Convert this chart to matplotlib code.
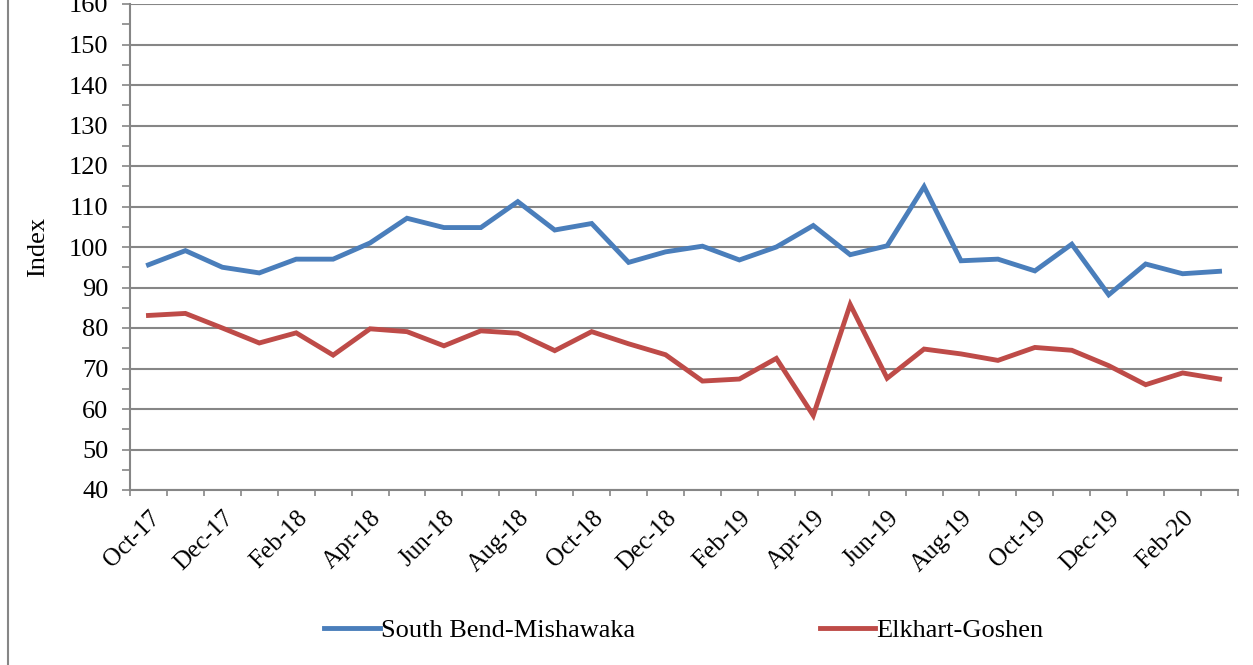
import numpy as np
import matplotlib.pyplot as plt
from matplotlib.lines import Line2D
from matplotlib.ticker import MultipleLocator

plt.rcParams['font.family'] = ['Liberation Serif', 'DejaVu Serif']

months = ["Oct-17", "Nov-17", "Dec-17", "Jan-18", "Feb-18", "Mar-18", "Apr-18", "May-18",
          "Jun-18", "Jul-18", "Aug-18", "Sep-18", "Oct-18", "Nov-18", "Dec-18", "Jan-19",
          "Feb-19", "Mar-19", "Apr-19", "May-19", "Jun-19", "Jul-19", "Aug-19", "Sep-19",
          "Oct-19", "Nov-19", "Dec-19", "Jan-20", "Feb-20", "Mar-20"]

south_bend = [95.6, 99.1, 95.0, 93.6, 97.0, 97.0, 101.0, 107.1, 104.8, 104.8,
              111.2, 104.2, 105.8, 96.2, 98.8, 100.2, 96.8, 100.0, 105.3, 98.1,
              100.3, 114.9, 96.6, 97.0, 94.1, 100.7, 88.2, 95.8, 93.4, 94.0]

elkhart = [83.1, 83.6, 80.0, 76.3, 78.8, 73.3, 79.8, 79.1, 75.6, 79.3,
           78.7, 74.4, 79.1, 76.1, 73.4, 66.9, 67.4, 72.5, 58.4, 85.8,
           67.6, 74.8, 73.6, 72.0, 75.2, 74.5, 70.7, 66.0, 68.9, 67.4]

blue = '#4A7EBB'
red = '#BE4B48'
grey = '#868686'

fig = plt.figure(figsize=(12.53, 6.65), dpi=100)
ax = fig.add_axes([130/1253, 1 - 490/665, (1238 - 130)/1253, (490 - 4)/665])

x = np.arange(len(months))
ax.plot(x, south_bend, color=blue, lw=3.5, solid_joinstyle='miter', label='South Bend-Mishawaka')
ax.plot(x, elkhart, color=red, lw=3.5, solid_joinstyle='miter', label='Elkhart-Goshen')

ax.set_ylim(40, 160)
ax.set_xlim(-0.5, len(months) - 0.5)
ax.yaxis.set_major_locator(MultipleLocator(10))
ax.yaxis.set_minor_locator(MultipleLocator(5))
ax.grid(axis='y', which='major', color=grey, lw=1.5)
ax.set_axisbelow(True)

# ticks at category boundaries, labels at every second category centre
ax.set_xticks(np.arange(-0.5, len(months), 1))
ax.set_xticklabels([])
ax.set_xticks(x[::2], minor=True)
ax.set_xticklabels(months[::2], minor=True, rotation=45, ha='right',
                   rotation_mode='anchor', fontsize=18)
ax.tick_params(axis='x', which='major', length=4, width=1.2, color=grey, direction='out')
ax.tick_params(axis='x', which='minor', length=0, pad=12)
ax.tick_params(axis='y', which='both', length=5.5, width=1.2, color=grey, labelsize=19, pad=10)

for s in ['top', 'right']:
    ax.spines[s].set_visible(False)
for s in ['left', 'bottom']:
    ax.spines[s].set_color(grey)
    ax.spines[s].set_linewidth(1.5)

ax.set_ylabel('Index', fontsize=19, labelpad=14)

fig.legend(loc='center', bbox_to_anchor=(684/1253, 1 - 630/665), ncol=2, frameon=False,
           fontsize=19, handlelength=2.1, handletextpad=0.05, columnspacing=7.0)

# chart area border on the left
fig.add_artist(Line2D([8/1253, 8/1253], [0, 1], transform=fig.transFigure, color=grey, lw=1.5))

fig.savefig('out.png', dpi=100)
